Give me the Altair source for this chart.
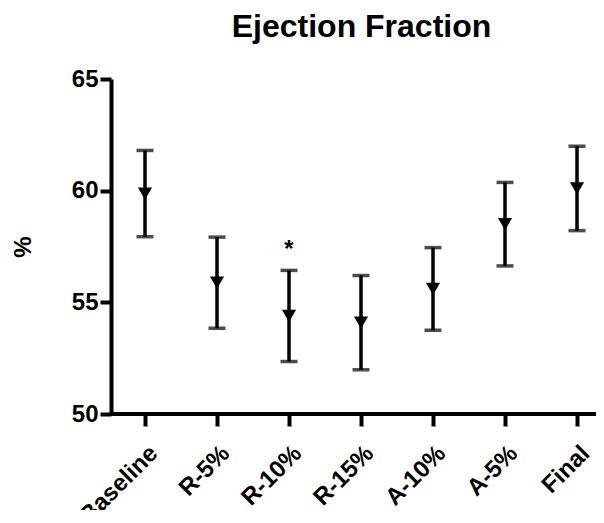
import altair as alt
import pandas as pd

categories = ["Baseline", "R-5%", "R-10%", "R-15%", "A-10%", "A-5%", "Final"]
means = [59.87, 55.88, 54.39, 54.09, 55.60, 58.50, 60.10]
errors = [1.93, 2.04, 2.04, 2.11, 1.85, 1.87, 1.89]
significance = ["", "", "*", "", "", "", ""]

df = pd.DataFrame({
    "group": categories,
    "mean": means,
    "err": errors,
    "sig": significance,
})

FONT = "Liberation Sans"
W, H = 485, 335

x_enc = alt.X(
    "group:N",
    sort=categories,
    scale=alt.Scale(type="point", range=[34, 466], padding=0),
    axis=alt.Axis(
        title=None,
        labelAngle=315,
        labelAlign="right",
        labelBaseline="top",
        labelFontSize=24,
        labelFont=FONT,
        labelFontWeight="bold",
        labelColor="black",
        labelPadding=15,
        tickSize=12,
        tickWidth=4,
        tickColor="black",
        domain=False,
        grid=False,
    ),
)

y_scale = alt.Scale(domain=[50, 65], nice=False, zero=False)

base = alt.Chart(df).transform_calculate(
    lo="datum.mean - datum.err",
    hi="datum.mean + datum.err",
)

rules = base.mark_rule(color="black", strokeWidth=3.5).encode(
    x=x_enc,
    y=alt.Y(
        "lo:Q",
        scale=y_scale,
        axis=alt.Axis(
            title="%",
            values=[50, 55, 60, 65],
            labelFontSize=24,
            labelFont=FONT,
            labelFontWeight="bold",
            labelColor="black",
            labelPadding=2,
            tickSize=11,
            tickWidth=4,
            tickColor="black",
            domainWidth=4,
            domainColor="black",
            grid=False,
            titleFont=FONT,
            titleFontSize=24,
            titleFontWeight="bold",
            titleColor="black",
            titlePadding=36,
        ),
    ),
    y2="hi:Q",
)

cap_lo = base.mark_tick(color="black", thickness=3.5, size=17, orient="horizontal").encode(
    x=alt.X("group:N", sort=categories), y=alt.Y("lo:Q")
)
cap_hi = base.mark_tick(color="black", thickness=3.5, size=17, orient="horizontal").encode(
    x=alt.X("group:N", sort=categories), y=alt.Y("hi:Q")
)

points = base.mark_point(
    shape="triangle-down", filled=True, color="black", size=200, opacity=1
).encode(x=alt.X("group:N", sort=categories), y=alt.Y("mean:Q"))

stars = base.mark_text(
    font=FONT, fontSize=24, fontWeight="bold", color="black", dy=-13, baseline="alphabetic"
).encode(x=alt.X("group:N", sort=categories), y=alt.Y("hi:Q"), text="sig:N")

x_axis_line = alt.Chart(pd.DataFrame({"k": [0]})).mark_rule(
    color="black", strokeWidth=4
).encode(x=alt.value(0), x2=alt.value(W), y=alt.value(H))

chart = (
    alt.layer(rules, cap_lo, cap_hi, points, stars, x_axis_line)
    .properties(
        width=W,
        height=H,
        view=alt.ViewBackground(stroke="transparent", strokeWidth=0),
        title=alt.TitleParams(
            "Ejection Fraction",
            font=FONT,
            fontSize=32,
            fontWeight="bold",
            color="black",
            anchor="middle",
            offset=23,
            dx=8,
        ),
        autosize=alt.AutoSizeParams(type="none"),
        padding={"left": 103, "top": 71, "right": 0, "bottom": 96},
    )
    .configure_view(stroke="transparent", strokeWidth=0)
    .configure_axis(grid=False)
    .configure(background="white")
)

chart.save("out.html", embed_options={"renderer": "svg", "actions": False})
